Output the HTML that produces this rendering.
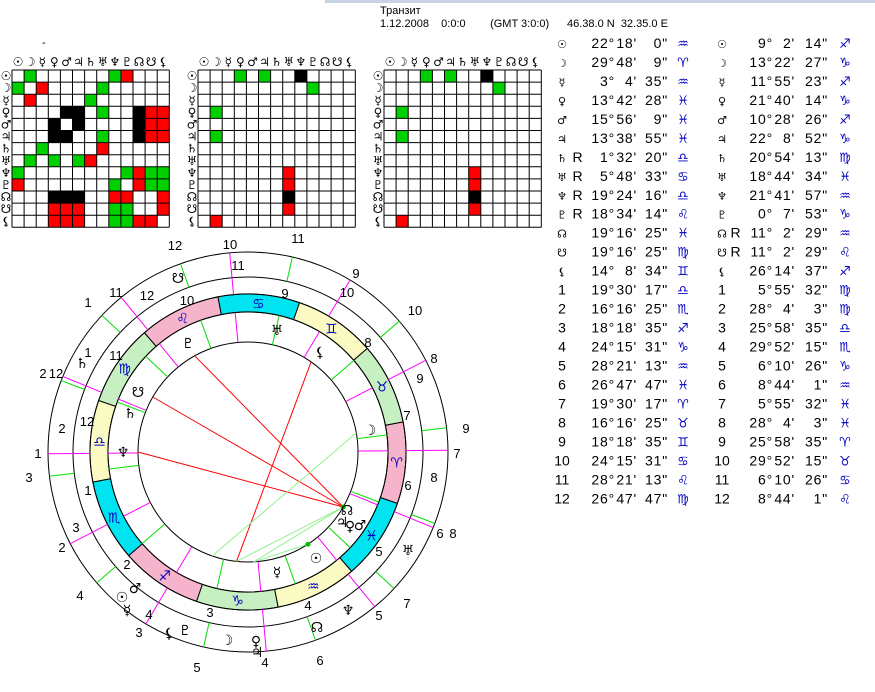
<!DOCTYPE html>
<html><head><meta charset="utf-8"><style>
html,body{margin:0;padding:0;background:#fff;width:875px;height:692px;overflow:hidden}
svg{position:absolute;left:0;top:0}
text{font-family:"Liberation Sans","DejaVu Sans",sans-serif}
.g{font-family:"DejaVu Sans",sans-serif}
</style></head><body>
<svg id="s" width="875" height="692" xmlns="http://www.w3.org/2000/svg">
<rect x="325" y="0" width="550" height="3" fill="#c8d4e6"/>
<text x="380" y="14" font-size="11">Транзит</text>
<text x="380" y="27" font-size="11" xml:space="preserve">1.12.2008    0:0:0        (GMT 3:0:0)</text>
<text x="567" y="27" font-size="11" xml:space="preserve">46.38.0 N  32.35.0 E</text>
<text x="42" y="46" font-size="11">-</text>
</svg>
<script>
var S=document.getElementById('s'),NS='http://www.w3.org/2000/svg';
function el(n,a,t){var e=document.createElementNS(NS,n);for(var k in a)e.setAttribute(k,a[k]);if(t!=null)e.textContent=t;S.appendChild(e);return e;}
var P=['☉','☽','☿','♀','♂','♃','♄','♅','♆','♇','☊','☋','⚸'];
var G='#00d000',R='#ff0000',K='#000';
function grid(x0,cells){var c=12.1,y0=70;
 for(var i=0;i<13;i++){el('text',{x:x0+c*i+c/2,y:y0-4,'font-size':12,'text-anchor':'middle','class':'g'},P[i]);
  el('text',{x:x0-6,y:y0+c*i+c/2+4,'font-size':12,'text-anchor':'middle','class':'g'},P[i]);}
 cells.forEach(function(q){el('rect',{x:x0+q[1]*c,y:y0+q[0]*c,width:c,height:c,fill:q[2]});});
 for(var i=0;i<=13;i++){el('line',{x1:x0+c*i,y1:y0,x2:x0+c*i,y2:y0+13*c,stroke:'#000','stroke-width':1});
  el('line',{x1:x0,y1:y0+c*i,x2:x0+13*c,y2:y0+c*i,stroke:'#000','stroke-width':1});}}
grid(12,[[0,1,G],[0,8,G],[0,9,R],[1,0,G],[1,2,R],[1,7,G],[2,1,R],[2,6,G],
[3,4,K],[3,5,K],[3,7,G],[3,10,K],[3,11,R],[3,12,R],[4,3,K],[4,5,K],[4,10,K],[4,11,R],[4,12,R],
[5,3,K],[5,4,K],[5,7,G],[5,10,K],[5,11,R],[5,12,R],[6,2,G],[6,7,R],[7,1,G],[7,3,G],[7,5,G],[7,6,R],
[8,0,G],[8,9,G],[8,10,R],[8,11,G],[8,12,G],[9,0,R],[9,8,G],[9,10,R],[9,11,G],[9,12,G],
[10,3,K],[10,4,K],[10,5,K],[10,8,R],[10,9,R],[10,12,R],[11,3,R],[11,4,R],[11,5,R],[11,8,G],[11,9,G],[11,12,R],
[12,3,R],[12,4,R],[12,5,R],[12,8,G],[12,9,G],[12,10,R],[12,11,R]]);
var g2=[[0,3,G],[0,5,G],[0,8,K],[1,9,G],[3,1,G],[5,1,G],[8,7,R],[9,7,R],[10,7,K],[11,7,R],[12,1,R]];
grid(198,g2);grid(384,g2);
var rows=[['☉','','22°',"18'",'0"','♒','☉','','9°',"2'",'14"','♐'],
['☽','','29°',"48'",'9"','♈','☽','','13°',"22'",'27"','♑'],
['☿','','3°',"4'",'35"','♒','☿','','11°',"55'",'23"','♐'],
['♀','','13°',"42'",'28"','♓','♀','','21°',"40'",'14"','♑'],
['♂','','15°',"56'",'9"','♓','♂','','10°',"28'",'26"','♐'],
['♃','','13°',"38'",'55"','♓','♃','','22°',"8'",'52"','♑'],
['♄','R','1°',"32'",'20"','♎','♄','','20°',"54'",'13"','♍'],
['♅','R','5°',"48'",'33"','♋','♅','','18°',"44'",'34"','♓'],
['♆','R','19°',"24'",'16"','♎','♆','','21°',"41'",'57"','♒'],
['♇','R','18°',"34'",'14"','♌','♇','','0°',"7'",'53"','♑'],
['☊','','19°',"16'",'25"','♓','☊','R','11°',"2'",'29"','♒'],
['☋','','19°',"16'",'25"','♍','☋','R','11°',"2'",'29"','♌'],
['⚸','','14°',"8'",'34"','♊','⚸','','26°',"14'",'37"','♐'],
['1','','19°',"30'",'17"','♎','1','','5°',"55'",'32"','♍'],
['2','','16°',"16'",'25"','♏','2','','28°',"4'",'3"','♍'],
['3','','18°',"18'",'35"','♐','3','','25°',"58'",'35"','♎'],
['4','','24°',"15'",'31"','♑','4','','29°',"52'",'15"','♏'],
['5','','28°',"21'",'13"','♒','5','','6°',"10'",'26"','♑'],
['6','','26°',"47'",'47"','♓','6','','8°',"44'",'1"','♒'],
['7','','19°',"30'",'17"','♈','7','','5°',"55'",'32"','♓'],
['8','','16°',"16'",'25"','♉','8','','28°',"4'",'3"','♓'],
['9','','18°',"18'",'35"','♊','9','','25°',"58'",'35"','♈'],
['10','','24°',"15'",'31"','♋','10','','29°',"52'",'15"','♉'],
['11','','28°',"21'",'13"','♌','11','','6°',"10'",'26"','♋'],
['12','','26°',"47'",'47"','♍','12','','8°',"44'",'1"','♌']];
rows.forEach(function(r,i){var y=48+i*18.97;
 function t(x,s,anc,cls,col,fs,ls){if(s==='')return;var a={x:x,y:y,'font-size':fs||14,'text-anchor':anc,fill:col||'#000','letter-spacing':ls==null?0.8:ls};if(cls)a['class']=cls;el('text',a,s);}
 var num=/^\d+$/.test(r[0]);
 t(562,r[0],'middle',num?null:'g',null,num?14:11,0);
 t(578,r[1],'middle',null);
 t(615,r[2],'end');t(637,r[3],'end');t(668,r[4],'end');
 t(683,r[5],'middle','g','#0000c0',13,0);
 num=/^\d+$/.test(r[6]);
 t(722,r[6],'middle',num?null:'g',null,num?14:11,0);
 t(736,r[7],'middle');
 t(773,r[8],'end');t(795,r[9],'end');t(828,r[10],'end');
 t(845,r[11],'middle','g','#0000c0',13,0);
});
var cx=248,cy=452;
function pt(th,r){var a=th*Math.PI/180;return [cx+r*Math.cos(a),cy-r*Math.sin(a)];}
var cols=['#f6b4cc','#c6f0c2','#fafac2','#00e4f2'];
var sg=['♈','♉','♊','♋','♌','♍','♎','♏','♐','♑','♒','♓'];
for(var i=0;i<12;i++){var a1=i*30-19,a2=a1+30,p1=pt(a1,158),p2=pt(a2,158),p3=pt(a2,140),p4=pt(a1,140);
 el('path',{d:'M'+p1+' A158 158 0 0 0 '+p2+' L'+p3+' A140 140 0 0 1 '+p4+'Z',fill:cols[i%4],stroke:'#000','stroke-width':1});
 var m=pt(a1+15,149);el('text',{x:m[0],y:m[1]+5,'font-size':14,'text-anchor':'middle','class':'g',fill:'#0000c0'},sg[i]);}
[110,140,158,175,200].forEach(function(r){el('circle',{cx:cx,cy:cy,r:r,fill:'none',stroke:'#000','stroke-width':1});});
var nat=[180.5,207.3,239.3,275.25,309.35,337.8,0.5,27.3,59.3,95.25,129.35,157.8];
var tr=[136.9,159.07,186.97,220.87,257.17,289.73,316.9,339.07,6.97,40.87,77.17,109.73];
function seg(th,r1,r2,c){var a=pt(th,r1),b=pt(th,r2);el('line',{x1:a[0],y1:a[1],x2:b[0],y2:b[1],stroke:c,'stroke-width':1});}
tr.forEach(function(t){seg(t,110,140,'#00e000');seg(t,175,200,'#00e000');});
nat.forEach(function(t){seg(t,110,140,'#ff00ff');seg(t,158,200,'#ff00ff');});
function asp(a,b,c){var p=pt(a,110),q=pt(b,110);el('line',{x1:p[0],y1:p[1],x2:q[0],y2:q[1],stroke:c,'stroke-width':1});}
asp(330,119,'#ff0000');asp(330,150,'#ff0000');asp(330,180,'#ff0000');asp(55,264,'#ff0000');
asp(10,251,'#90f090');asp(264,330,'#90f090');asp(273,330,'#90f090');asp(273,303,'#90f090');
[330,303].forEach(function(t){var p=pt(t,110);el('circle',{cx:p[0],cy:p[1],r:2.5,fill:'#00c000'});});
var nums=[[175,245,'12'],[230,244,'10'],[298,238,'11'],[238,265,'11'],[356,273,'9'],[347,292,'10'],[285,293,'9'],[187,300,'10'],[147,295,'12'],[116,292,'11'],[88,302,'1'],[415,310,'10'],[368,342,'8'],[88,352,'1'],[116,355,'11'],[434,358,'8'],[420,378,'9'],[407,415,'7'],[87,421,'12'],[62,428,'2'],[466,428,'9'],[457,453,'7'],[434,477,'8'],[408,485,'6'],[88,490,'1'],[76,527,'3'],[62,547,'2'],[440,533,'6'],[453,533,'8'],[379,551,'5'],[127,564,'2'],[80,595,'4'],[308,605,'4'],[210,612,'3'],[149,614,'4'],[379,615,'5'],[407,603,'7'],[139,632,'3'],[197,667,'5'],[265,662,'4'],[320,660,'6'],[43,373,'2'],[56,373,'12'],[38,453,'1'],[29,477,'3']];
nums.forEach(function(n){el('text',{x:n[0],y:n[1]+5,'font-size':13,'text-anchor':'middle'},n[2]);});
var gl=[[178,278,'☋'],[82,363,'♄'],[122,597,'☉'],[135,588,'♂'],[127,610,'☿'],[169,633,'⚸'],[185,630,'♇'],[227,640,'☽'],[256,641,'♀'],[257,652,'♃'],[317,627,'☊'],[348,610,'♆'],[408,550,'♅'],
[188,343,'♇'],[277,330,'♅'],[320,352,'⚸'],[138,392,'☋'],[130,413,'♄'],[123,452,'♆'],[370,430,'☽'],[347,510,'☊'],[342,522,'♃'],[350,526,'♀'],[360,525,'♂'],[316,558,'☉'],[277,572,'☿']];
gl.forEach(function(n){el('text',{x:n[0],y:n[1]+5,'font-size':14,'text-anchor':'middle','class':'g'},n[2]);});
</script>
</body></html>
